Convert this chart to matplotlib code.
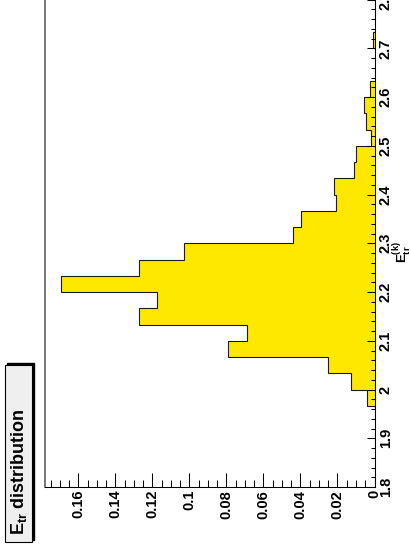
import numpy as np
import matplotlib
matplotlib.use("Agg")
import matplotlib.pyplot as plt
from matplotlib.patches import Rectangle
from matplotlib.ticker import MultipleLocator, FormatStrFormatter

plt.rcParams['font.family'] = ['Liberation Sans', 'DejaVu Sans']
plt.rcParams['font.weight'] = 'bold'
plt.rcParams['mathtext.fontset'] = 'custom'
plt.rcParams['mathtext.rm'] = 'Liberation Sans:bold'
plt.rcParams['mathtext.it'] = 'Liberation Sans:bold'
plt.rcParams['mathtext.bf'] = 'Liberation Sans:bold'

# histogram binning: 30 bins between 1.8 and 2.8
e_min, e_max, n_bins = 1.8, 2.8, 30
bin_edges = np.linspace(e_min, e_max, n_bins + 1)

# bin contents (normalised fractions)
fractions = [
    0.0, 0.0, 0.0, 0.0, 0.0,
    0.0040, 0.0129, 0.0250, 0.0790, 0.0688,
    0.1272, 0.1175, 0.1696, 0.1272, 0.1031,
    0.0442, 0.0398, 0.0209, 0.0218, 0.0110,
    0.0099, 0.0020, 0.0047, 0.0056, 0.0027,
    0.0, 0.0, 0.0009, 0.0, 0.0,
]
value_max = 0.178

title_text = r'$\mathbf{E}_{\mathbf{tr}}$ distribution'
axis_title = r'$\mathbf{E}^{(k)}_{\mathbf{tr}}$'

W, H = 411, 550
fig = plt.figure(figsize=(W / 100, H / 100), dpi=100)


def fx(px):
    return px / W


def fy(py):
    return 1 - py / H


# whole canvas is turned on its side: values run right->left, E runs up
ax = fig.add_axes([fx(45), fy(487), (374.5 - 45) / W, 487.4 / H])
ax.stairs(fractions, bin_edges, orientation='horizontal', fill=True,
          color='#ffe800', lw=0)
ax.stairs(fractions, bin_edges, orientation='horizontal',
          color='#1a1a1a', lw=0.8)
ax.set_xlim(value_max, 0)
ax.set_ylim(e_min, e_max)

# E axis on the right
ax.yaxis.tick_right()
ax.yaxis.set_major_locator(MultipleLocator(0.1))
ax.yaxis.set_minor_locator(MultipleLocator(0.02))
ax.yaxis.set_major_formatter(FormatStrFormatter('%g'))
ax.tick_params(axis='y', which='both', direction='in', right=True, left=False,
               width=0.75, colors='black')
ax.tick_params(axis='y', which='major', length=6, pad=3, labelsize=10.5,
               labelrotation=90)
ax.tick_params(axis='y', which='minor', length=3)
plt.setp(ax.get_yticklabels(), va='center')

# value axis along the bottom
ax.xaxis.set_major_locator(MultipleLocator(0.02))
ax.xaxis.set_minor_locator(MultipleLocator(0.005))
ax.xaxis.set_major_formatter(FormatStrFormatter('%g'))
ax.tick_params(axis='x', which='both', direction='in', top=False, bottom=True,
               width=0.75, colors='black')
ax.tick_params(axis='x', which='major', length=10, pad=2, labelsize=10.5,
               labelrotation=90)
ax.tick_params(axis='x', which='minor', length=5)

ax.spines['top'].set_visible(False)
ax.spines['left'].set_color('#606060')
ax.spines['left'].set_linewidth(1.2)
ax.spines['bottom'].set_linewidth(0.75)
ax.spines['right'].set_linewidth(0.75)

# title box with shadow
fig.patches.append(Rectangle((fx(7), fy(540)), 27 / W, 177 / H,
                             transform=fig.transFigure, color='black'))
fig.patches.append(Rectangle((fx(5), fy(542)), 27 / W, 177 / H,
                             transform=fig.transFigure, fc='#efefef',
                             ec='black', lw=0.8))
fig.text(fx(19), fy(535), title_text, rotation=90, rotation_mode='anchor',
         ha='left', va='center', fontsize=13, fontweight='bold')

fig.text(fx(402), fy(252), axis_title, rotation=90, rotation_mode='anchor',
         ha='center', va='center', fontsize=9.5)

fig.savefig('out.png', dpi=100)
